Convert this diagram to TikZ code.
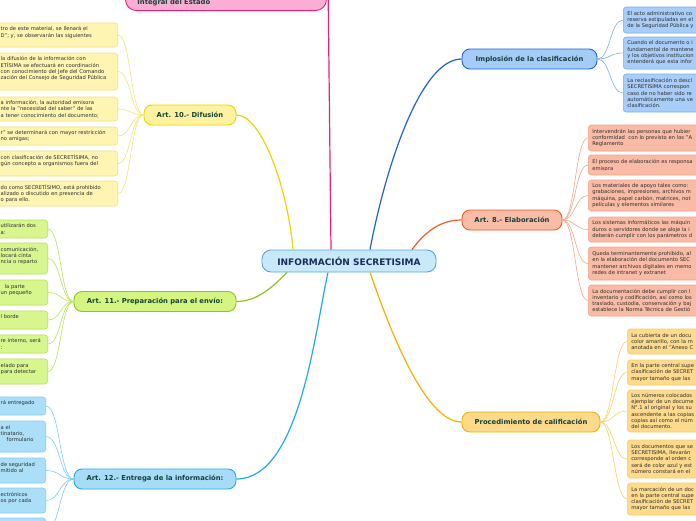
\documentclass[tikz,border=0pt]{standalone}
\usepackage{fontspec}
\setmainfont{DejaVu Sans}
\usetikzlibrary{positioning}

\newcommand\leaffont{\fontsize{5.2}{6.3}\selectfont}
\newcommand\topicfont{\bfseries\fontsize{6.8}{8}\selectfont}
\newcommand\rootfont{\bfseries\fontsize{9}{10}\selectfont}

\definecolor{rootfill}{HTML}{C7E9FA}
\definecolor{rootline}{HTML}{5AA3DC}
\definecolor{roottext}{HTML}{1B2D5C}
\definecolor{topictext}{HTML}{17403A}
\definecolor{leaftext}{HTML}{2E2E2E}
\definecolor{pinkfill}{HTML}{FBAED4}
\definecolor{pinkline}{HTML}{E8207A}
\definecolor{yfill}{HTML}{FDF29F}
\definecolor{yline}{HTML}{EDD500}
\definecolor{yleaf}{HTML}{FEF5B2}
\definecolor{ylink}{HTML}{F3E37C}
\definecolor{gfill}{HTML}{D4F57F}
\definecolor{gline}{HTML}{94C21E}
\definecolor{gleaf}{HTML}{D7F68E}
\definecolor{glink}{HTML}{B5E35A}
\definecolor{bfill}{HTML}{A7DCF6}
\definecolor{bline}{HTML}{22A8EE}
\definecolor{bleaf}{HTML}{ABDFF7}
\definecolor{blink}{HTML}{7CCDF2}
\definecolor{ifill}{HTML}{A5CBF7}
\definecolor{iline}{HTML}{1E62D6}
\definecolor{ileaf}{HTML}{A8CDF8}
\definecolor{ilink}{HTML}{7EAEEE}
\definecolor{efill}{HTML}{F9BCA6}
\definecolor{eline}{HTML}{F05A28}
\definecolor{eleaf}{HTML}{F9BBA5}
\definecolor{elink}{HTML}{F5A586}
\definecolor{cfill}{HTML}{FDD98A}
\definecolor{cline}{HTML}{F5B000}
\definecolor{cleaf}{HTML}{FDDA8C}
\definecolor{clink}{HTML}{FBCE66}

\tikzset{
  rootnode/.style={draw=rootline, fill=rootfill, text=roottext, line width=0.9pt,
    rounded corners=9pt, font=\rootfont, minimum width=174pt, minimum height=22pt},
  topic/.style={line width=0.9pt, rounded corners=8pt, font=\topicfont,
    text=topictext, minimum height=20pt, inner sep=0pt},
  leaf/.style={line width=0.6pt, rounded corners=3pt, font=\leaffont,
    text=leaftext, align=left, inner xsep=4pt, inner ysep=2pt},
  ybox/.style={leaf, anchor=east, draw=ylink, fill=yleaf, text width=113pt},
  gbox/.style={leaf, anchor=east, draw=glink, fill=gleaf, text width=43pt},
  bbox/.style={leaf, anchor=east, draw=blink, fill=bleaf, text width=41pt},
  ibox/.style={leaf, anchor=west, draw=ilink, fill=ileaf, text width=200pt},
  ebox/.style={leaf, anchor=west, draw=elink, fill=eleaf, text width=200pt},
  cbox/.style={leaf, anchor=west, draw=clink, fill=cleaf, text width=200pt},
  branch/.style={line width=1.2pt},
  twig/.style={line width=0.6pt},
}

\begin{document}
\begin{tikzpicture}[x=1pt,y=-1pt]
\useasboundingbox (0,0) rectangle (696,520);
\clip (0,0) rectangle (696,520);
\fill[white] (0,0) rectangle (696,520);

% centre
\node[rootnode] (root) at (349,261) {INFORMACIÓN SECRETISIMA};

% pink branch, mostly above the page
\node[topic, draw=pinkline, fill=pinkfill, rounded corners=11pt, anchor=south west,
  text width=177pt, align=left, inner xsep=12pt, inner ysep=4pt,
  text height=24pt, text depth=2pt] (integral) at (125,11) {Integral del Estado};
\coordinate (integralend) at (328,-20);

% main topics
\node[topic, draw=yline, fill=yfill, minimum width=92pt] (dif) at (190,115) {Art. 10.- Difusión};
\node[topic, draw=gline, fill=gfill, minimum width=162pt] (env) at (155,301.5) {Art. 11.- Preparación para el envío:};
\node[topic, draw=bline, fill=bfill, minimum width=162pt] (ent) at (155,479) {Art. 12.- Entrega de la información:};
\node[topic, draw=iline, fill=ifill, minimum width=135pt] (imp) at (529.5,59) {Implosión de la clasificación};
\node[topic, draw=eline, fill=efill, minimum width=100pt] (ela) at (512,220) {Art. 8.- Elaboración};
\node[topic, draw=cline, fill=cfill, minimum width=138pt] (cal) at (531,422) {Procedimiento de calificación};

% Art. 10 leaves
\node[ybox, minimum height=24pt] (dif1) at (118,35) {tro de este material, se llenará el\\D"; y, se observarán las siguientes\\\mbox{}};
\node[ybox, minimum height=37pt] (dif2) at (118,71.5) {la difusión de la información con\\ETÍSIMA se efectuará en coordinación\\con conocimiento del Jefe del Comando\\zación del Consejo de Seguridad Pública\\\mbox{}};
\node[ybox, minimum height=24pt] (dif3) at (118,109) {a información, la autoridad emisora\\nte la "necesidad del saber" de las\\a tener conocimiento del documento;};
\node[ybox, minimum height=18pt] (dif4) at (118,136) {r" se determinará con mayor restricción\\no amigas;};
\node[ybox, minimum height=25pt] (dif5) at (118,163.5) {con clasificación de SECRETÍSIMA, no\\gún concepto a organismos fuera del\\\mbox{}};
\node[ybox, minimum height=25pt] (dif6) at (118,193.5) {do como SECRETÍSIMO, está prohibido\\alizado o discutido en presencia de\\o para ello.};

% Art. 11 leaves
\node[gbox, minimum height=18pt] (env1) at (48,229) {utilizarán dos\\a:};
\node[gbox, minimum height=31pt] (env2) at (48,258.5) {comunicación,\\locará cinta\\ncia o reparto\\\mbox{}};
\node[gbox, minimum height=25pt] (env3) at (48,292.5) {\hspace*{4pt}la parte\\un pequeño\\\mbox{}};
\node[gbox, minimum height=18pt] (env4) at (48,320) {l borde\\\mbox{}};
\node[gbox, minimum height=18pt] (env5) at (48,344) {re interno, será\\:};
\node[gbox, minimum height=25pt] (env6) at (48,371.5) {elado para\\para detectar\\\mbox{}};

% Art. 12 leaves
\node[bbox, minimum height=18pt] (ent1) at (46,406) {rá entregado\\\mbox{}};
\node[bbox, minimum height=31pt] (ent2) at (46,436.5) {a el\\tinatario,\\\hspace*{6pt}formulario\\\mbox{}};
\node[bbox, minimum height=25pt] (ent3) at (46,470.5) {de seguridad\\mitido al\\\mbox{}};
\node[bbox, minimum height=25pt] (ent4) at (46,500.5) {ectrónicos\\os por cada\\\mbox{}};
\node[bbox, minimum height=25pt] (ent5) at (46,530.5) {};

% Implosion leaves
\node[ibox, minimum height=26pt] (imp1) at (623,20) {El acto administrativo co\\reserva estipuladas en el\\de la Seguridad Pública y};
\node[ibox, minimum height=32pt] (imp2) at (623,53) {Cuando el documento o i\\fundamental de mantene\\y los objetivos institucion\\entenderá que esta infor};
\node[ibox, minimum height=38pt] (imp3) at (623,93) {La reclasificación o descl\\SECRETISIMA correspon\\caso de no haber sido re\\automáticamente una ve\\clasificación.};

% Art. 8 leaves
\node[ebox, minimum height=26pt] (ela1) at (588,138) {Intervendrán las personas que hubier\\conformidad\ \ con lo previsto en los "A\\Reglamento};
\node[ebox, minimum height=20pt] (ela2) at (588,165) {El proceso de elaboración es responsa\\emisora};
\node[ebox, minimum height=31pt] (ela3) at (588,195.5) {Los materiales de apoyo tales como:\\grabaciones, impresiones, archivos m\\máquina, papel carbón, matrices, not\\películas y elementos similares};
\node[ebox, minimum height=25pt] (ela4) at (588,229.5) {Los sistemas informáticos las máquin\\duros o servidores donde se aloje la i\\deberán cumplir con los parámetros d};
\node[ebox, minimum height=33pt] (ela5) at (588,263.5) {Queda terminantemente prohibido, al\\en la elaboración del documento SEC\\mantener archivos digitales en memo\\redes de intranet y extranet};
\node[ebox, minimum height=31pt] (ela6) at (588,300.5) {La documentación debe cumplir con l\\inventario y codificación, así como los\\traslado, custodia, conservación y baj\\establece la Norma Técnica de Gestió};

% calificacion leaves
\node[cbox, minimum height=25pt] (cal1) at (627,341.5) {La cubierta de un docu\\color amarillo, con la m\\anotada en el "Anexo C};
\node[cbox, minimum height=25pt] (cal2) at (627,372.5) {En la parte central supe\\clasificación de SECRET\\mayor tamaño que las};
\node[cbox, minimum height=42pt] (cal3) at (627,411) {Los números colocados\\ejemplar de un docume\\N°.1 al original y los su\\ascendente a las copias\\copias así como el núm\\del documento.};
\node[cbox, minimum height=38pt] (cal4) at (627,459) {Los documentos que se\\SECRETISIMA, llevarán\\corresponde al orden c\\será de color azul y est\\número constará en el};
\node[cbox, minimum height=32pt] (cal5) at (627,499) {La marcación de un doc\\en la parte central supe\\clasificación de SECRET\\mayor tamaño que las};

% main branches
\draw[branch, pinkline] ([xshift=-18pt]root.north) -- (integralend);
\draw[branch, yline] ([xshift=-56pt]root.north) .. controls (288,190) and (262,115) .. (dif.east);
\draw[branch, iline] ([xshift=21pt]root.north) .. controls (385,170) and (420,59) .. (imp.west);
\draw[branch, eline] ([xshift=63pt]root.north) .. controls (425,232) and (440,220) .. (ela.west);
\draw[branch, gline] ([xshift=-62pt]root.south) .. controls (270,290) and (255,301.5) .. (env.east);
\draw[branch, bline] ([xshift=-21pt]root.south) .. controls (315,330) and (300,479) .. (ent.east);
\draw[branch, cline] ([xshift=21pt]root.south) .. controls (390,330) and (425,422) .. (cal.west);

% leaf links
\foreach \n in {1,...,6}
  \draw[twig, ylink] (dif.west) .. controls +(-13,0) and +(13,0) .. (dif\n.east);
\foreach \n in {1,...,6}
  \draw[twig, glink] (env.west) .. controls +(-13,0) and +(13,0) .. (env\n.east);
\foreach \n in {1,...,5}
  \draw[twig, blink] (ent.west) .. controls +(-14,0) and +(14,0) .. (ent\n.east);
\foreach \n in {1,...,3}
  \draw[twig, ilink] (imp.east) .. controls +(13,0) and +(-13,0) .. (imp\n.west);
\foreach \n in {1,...,6}
  \draw[twig, elink] (ela.east) .. controls +(13,0) and +(-13,0) .. (ela\n.west);
\foreach \n in {1,...,5}
  \draw[twig, clink] (cal.east) .. controls +(13,0) and +(-13,0) .. (cal\n.west);
\end{tikzpicture}
\end{document}
